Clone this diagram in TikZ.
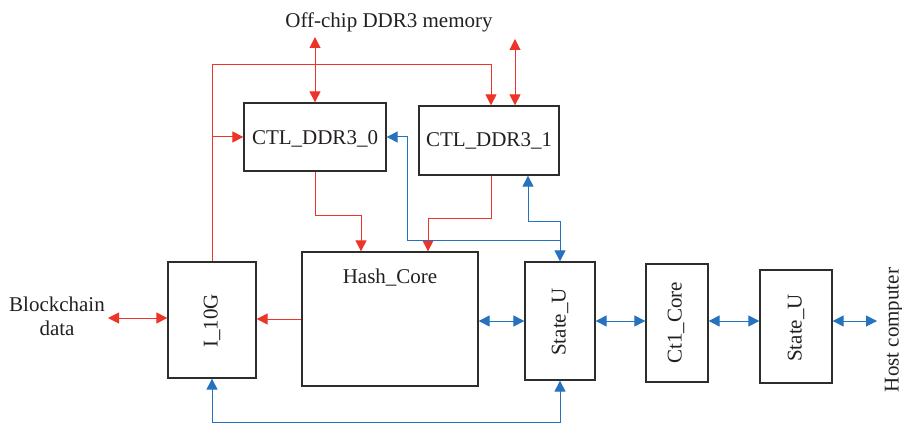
\documentclass[tikz,border=0pt]{standalone}
\usepackage{fontspec}
\setmainfont{Liberation Serif}
\usetikzlibrary{arrows.meta}
\definecolor{myred}{RGB}{236,52,40}
\definecolor{myblue}{RGB}{38,114,190}
\definecolor{boxgray}{RGB}{45,45,45}
\definecolor{txt}{RGB}{35,31,32}
\tikzset{tri/.tip={Triangle[length=11pt,width=11pt]}}
\begin{document}
\begin{tikzpicture}[x=1pt,y=-1pt,
  blk/.style={draw=boxgray,line width=1.3pt,fill=white,inner sep=0pt,rectangle},
  lbl/.style={text=txt,font=\fontsize{21}{23.5}\selectfont,inner sep=0pt},
  rlink/.style={draw=myred,line width=1pt},
  blink/.style={draw=myblue,line width=1pt}
]
\useasboundingbox (0,0) rectangle (902,425);

% boxes
\node[blk,minimum width=142pt,minimum height=68pt] (ddr0) at (315,137) {};
\node[blk,minimum width=140pt,minimum height=69pt] (ddr1) at (489,140.5) {};
\node[blk,minimum width=88pt,minimum height=116pt] (i10g) at (212,320) {};
\node[blk,minimum width=176pt,minimum height=134pt] (hash) at (390,319) {};
\node[blk,minimum width=70pt,minimum height=118pt] (su1) at (560,321) {};
\node[blk,minimum width=62pt,minimum height=118pt] (ct1) at (677,323) {};
\node[blk,minimum width=72pt,minimum height=113pt] (su2) at (796,326.5) {};

% labels
\node[lbl,anchor=base] (t0) at (315,144.5) {CTL\_DDR3\_0};
\node[lbl,anchor=base] (t1) at (489,146.5) {CTL\_DDR3\_1};
\node[lbl,anchor=base] (th) at (390,283.5) {Hash\_Core};
\node[lbl,rotate=90,anchor=base] (ti) at (217.5,321) {I\_10G};
\node[lbl,rotate=90,anchor=base] (ts1) at (565.5,322) {State\_U};
\node[lbl,rotate=90,anchor=base] (tc) at (681.5,323) {Ct1\_Core};
\node[lbl,rotate=90,anchor=base] (ts2) at (801.5,328) {State\_U};
\node[lbl,rotate=90,anchor=base] (thc) at (898.5,330) {Host computer};
\node[lbl,anchor=base] (tm) at (389,27.5) {Off-chip DDR3 memory};
\node[lbl,anchor=base] (tb1) at (57,311.7) {Blockchain};
\node[lbl,anchor=base] (tb2) at (57,335) {data};

% free ends
\coordinate (mem0) at (315,37);
\coordinate (mem1) at (515,39);
\coordinate (rtop) at (491,65);
\coordinate (bc) at (108,318);
\coordinate (bj) at (407,240);
\coordinate (bk) at (560,221);
\coordinate (host) at (877,321);
\coordinate (bb) at (400,422.5);

% red connectors
\draw[rlink,tri-tri] (mem0) -- (ddr0.north);
\draw[rlink,tri-tri] (mem1) -- (mem1 |- ddr1.north);
\draw[rlink,-tri] (i10g.north) |- (rtop) -- (rtop |- ddr1.north);
\draw[rlink,-tri] (i10g.north |- ddr0.west) -- (ddr0.west);
\draw[rlink,-tri] (ddr0.south) -- ++(0,44) -| ([xshift=-29pt]hash.north);
\draw[rlink,-tri] ([xshift=2pt]ddr1.south) -- ++(0,43) -| ([xshift=38pt]hash.north);
\draw[rlink,-tri] (hash.west) -- (hash.west -| i10g.east);
\draw[rlink,tri-tri] (bc) -- (bc -| i10g.west);

% blue connectors
\draw[blink,tri-] (ddr0.east) -| (bj) -- (bj -| su1.north);
\draw[blink,tri-tri] ([xshift=39pt]ddr1.south) |- (bk) -- (su1.north);
\draw[blink,tri-tri] (hash.east |- su1.west) -- (su1.west);
\draw[blink,tri-tri] (su1.east) -- (su1.east -| ct1.west);
\draw[blink,tri-tri] (su1.east -| ct1.east) -- (su1.east -| su2.west);
\draw[blink,tri-tri] (host -| su2.east) -- (host);
\draw[blink,tri-tri] (i10g.south) |- (bb) -| (su1.south);
\end{tikzpicture}
\end{document}
